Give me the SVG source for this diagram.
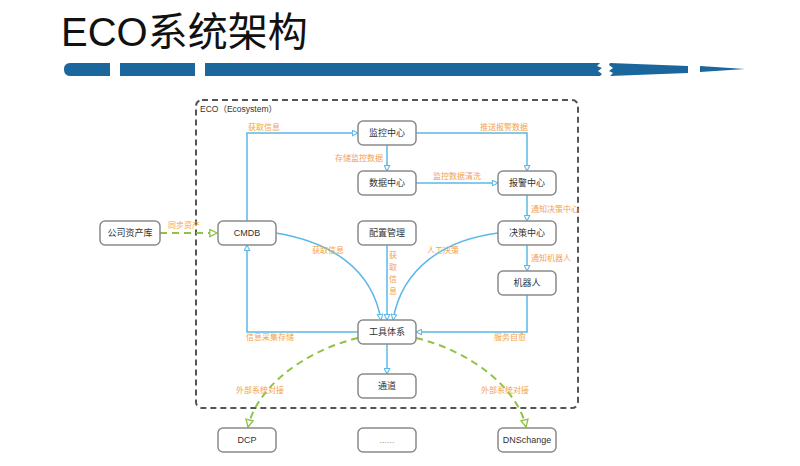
<svg xmlns="http://www.w3.org/2000/svg" width="800" height="466" viewBox="0 0 800 466">
<defs>
<style>
.title{font-family:"Liberation Sans","Noto Sans CJK SC",sans-serif;font-size:40px;fill:#111;}
.node rect{fill:#fff;stroke:#8a8a8a;stroke-width:1.5;}
.node text{font-family:"Liberation Sans","Noto Sans CJK SC",sans-serif;font-size:9px;fill:#333;text-anchor:middle;dominant-baseline:central;}
.lbl{font-family:"Noto Sans CJK SC","Liberation Sans",sans-serif;font-size:8px;fill:#f4a24a;}
.blue{fill:none;stroke:#5bb8e8;stroke-width:1.5;marker-end:url(#ab);}
.green{fill:none;stroke:#8fc346;stroke-width:2;stroke-dasharray:7 5;marker-end:url(#ag);}
.bar{fill:#1b679d;}
</style>
<marker id="ab" viewBox="0 0 10 10" refX="9" refY="5" markerWidth="7" markerHeight="7" markerUnits="userSpaceOnUse" orient="auto"><path d="M1,1 L9,5 L1,9 Z" fill="#fff" stroke="#5bb8e8" stroke-width="1.5"/></marker>
<marker id="ag" viewBox="0 0 10 10" refX="9" refY="5" markerWidth="9" markerHeight="9" markerUnits="userSpaceOnUse" orient="auto"><path d="M1,1 L9,5 L1,9 Z" fill="#fff" stroke="#8fc346" stroke-width="1.5"/></marker>
</defs>
<rect width="800" height="466" fill="#fff"/>
<text class="title" x="61" y="46">ECO系统架构</text>
<g id="bar">
<path class="bar" d="M70,63 L110,63 L110,76 L70,76 Q64,76 64,69.5 Q64,63 70,63 Z"/>
<rect class="bar" x="120" y="63" width="75" height="13"/>
<path class="bar" d="M205,63 L600,63 L597,66 L602,68 L598,71 L602,74 L600,76 L205,76 Z"/>
<path class="bar" d="M610,63 L688,66 L688,73 L610,76 L613,73 L609,71 L613,68 L609,65 Z"/>
<path class="bar" d="M700,66 L745,69 L700,72 Z"/>
</g>
<g id="eco-boundary">
<rect x="196" y="100" width="382" height="308" rx="6" fill="none" stroke="#555" stroke-width="2" stroke-dasharray="6 4"/>
<text x="200" y="112" font-family="Liberation Sans,Noto Sans CJK SC,sans-serif" font-size="8.5" fill="#333">ECO（Ecosystem）</text>
</g>
<g id="connectors">
<path class="blue" d="M247,221 L247,133 L358,133"/>
<path class="blue" d="M416,133 L527,133 L527,171"/>
<path class="blue" d="M387,145 L387,171"/>
<path class="blue" d="M416,183 L498,183"/>
<path class="blue" d="M527,195 L527,221"/>
<path class="blue" d="M527,245 L527,271"/>
<path class="blue" d="M527,295 L527,332 L416,332"/>
<path class="blue" d="M358,332 L247,332 L247,245"/>
<path class="blue" d="M276,233 C330,242 372,268 381,320"/>
<path class="blue" d="M387,245 L387,320"/>
<path class="blue" d="M498,233 C444,240 402,268 393,320"/>
<path class="blue" d="M387,344 L387,374"/>
<path class="green" d="M160,233 L217,233"/>
<path class="green" d="M358,338 C300,352 256,390 248,427"/>
<path class="green" d="M416,338 C474,352 518,390 526,427"/>
<text class="lbl" x="248" y="130">获取信息</text>
<text class="lbl" x="480" y="130">推送报警数据</text>
<text class="lbl" x="335" y="161">存储监控数据</text>
<text class="lbl" x="433" y="179">监控数据清洗</text>
<text class="lbl" x="531" y="212">通知决策中心</text>
<text class="lbl" x="531" y="261">通知机器人</text>
<text class="lbl" x="494" y="340">服务自愈</text>
<text class="lbl" x="246" y="340">信息采集存储</text>
<text class="lbl" x="312" y="253">获取信息</text>
<text class="lbl" x="427" y="253">人工决策</text>
<text class="lbl" x="389" y="258">获</text>
<text class="lbl" x="389" y="270">取</text>
<text class="lbl" x="389" y="282">信</text>
<text class="lbl" x="389" y="294">息</text>
<text class="lbl" x="168" y="228">同步资产</text>
<text class="lbl" x="236" y="393">外部系统对接</text>
<text class="lbl" x="481" y="393">外部系统对接</text>
</g>
<g id="n-monitor" class="node"><rect x="358" y="121" width="58" height="24" rx="5"/><text x="387" y="133">监控中心</text></g>
<g id="n-data" class="node"><rect x="358" y="171" width="58" height="24" rx="5"/><text x="387" y="183">数据中心</text></g>
<g id="n-alarm" class="node"><rect x="498" y="171" width="58" height="24" rx="5"/><text x="527" y="183">报警中心</text></g>
<g id="n-assets" class="node"><rect x="100" y="221" width="60" height="24" rx="5"/><text x="130" y="233">公司资产库</text></g>
<g id="n-cmdb" class="node"><rect x="218" y="221" width="58" height="24" rx="5"/><text x="247" y="233">CMDB</text></g>
<g id="n-config" class="node"><rect x="358" y="221" width="58" height="24" rx="5"/><text x="387" y="233">配置管理</text></g>
<g id="n-decision" class="node"><rect x="498" y="221" width="58" height="24" rx="5"/><text x="527" y="233">决策中心</text></g>
<g id="n-robot" class="node"><rect x="498" y="271" width="58" height="24" rx="5"/><text x="527" y="283">机器人</text></g>
<g id="n-tools" class="node"><rect x="358" y="320" width="58" height="24" rx="5"/><text x="387" y="332">工具体系</text></g>
<g id="n-channel" class="node"><rect x="358" y="374" width="58" height="24" rx="5"/><text x="387" y="386">通道</text></g>
<g id="n-dcp" class="node"><rect x="218" y="428" width="58" height="24" rx="5"/><text x="247" y="440">DCP</text></g>
<g id="n-more" class="node"><rect x="358" y="428" width="58" height="24" rx="5"/><text x="387" y="440" style="fill:#999">......</text></g>
<g id="n-dns" class="node"><rect x="498" y="428" width="58" height="24" rx="5"/><text x="527" y="440">DNSchange</text></g>
</svg>
